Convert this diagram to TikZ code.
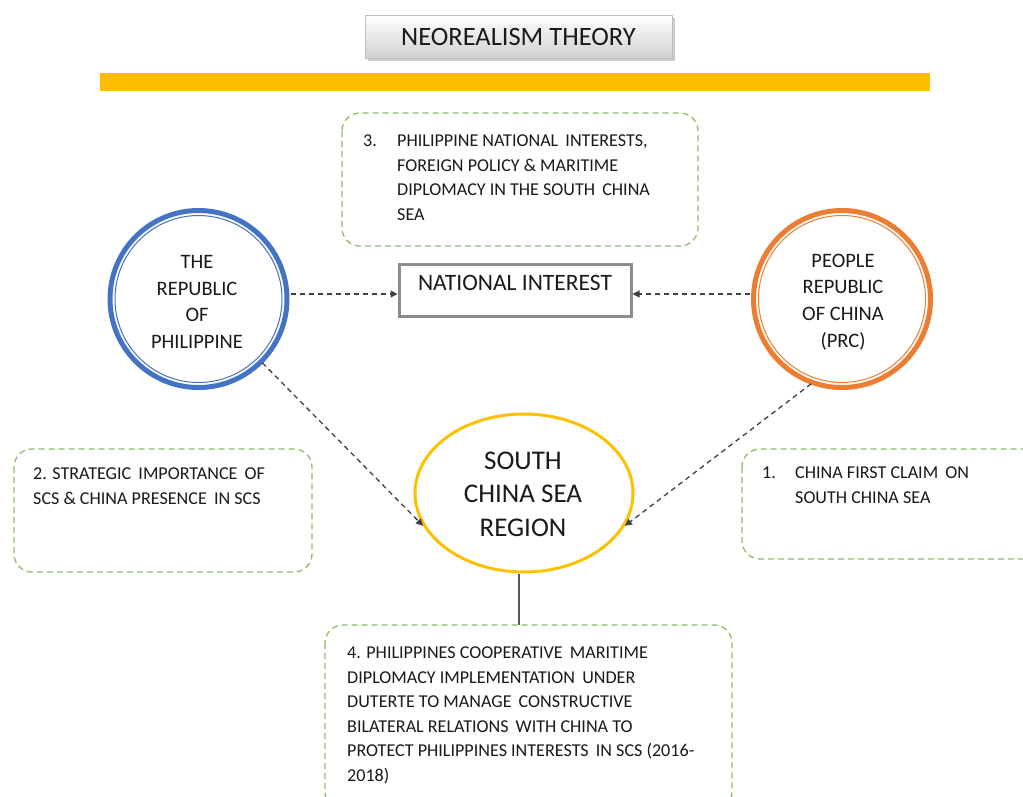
\documentclass[tikz,border=0pt]{standalone}
\usepackage{fontspec}
\setmainfont{Carlito}
\usetikzlibrary{shapes.geometric,arrows.meta,shadows}
\definecolor{gbox}{HTML}{70AD47}
\definecolor{pblue}{HTML}{4472C4}
\definecolor{porange}{HTML}{ED7D31}
\definecolor{pgold}{HTML}{FFC000}
\definecolor{txt}{HTML}{1A1A1A}
\tikzset{
  greenbox/.style={draw=gbox!80, dashed, dash pattern=on 6pt off 4pt, line width=1.3pt, rounded corners=18pt},
  btxt/.style={anchor=north west, inner sep=0pt, text=txt, font=\fontsize{18.1}{24.5}\selectfont, align=left},
  ctxt/.style={text=txt, align=center, font=\fontsize{20.5}{26.7}\selectfont},
  conn/.style={draw=black!75, dashed, dash pattern=on 5pt off 4pt, line width=1.3pt, -{Triangle[length=7pt,width=7pt]}}
}
\begin{document}
\begin{tikzpicture}[x=1pt,y=-1pt]
\clip (0,0) rectangle (1023,796);
\fill[white] (0,0) rectangle (1023,796);
% title
\node[draw=black!25, line width=1pt, top color=white, bottom color=black!18, minimum width=307pt, minimum height=43pt, drop shadow={shadow xshift=3pt, shadow yshift=-3pt, opacity=0.4}, font=\fontsize{26.5}{28}\selectfont, text=txt] (title) at (518.5,36.5) {NEOREALISM THEORY};
% bar
\fill[pgold!95!orange] (100,73) rectangle (930,91);
% box 3
\draw[greenbox] (342,113) rectangle (698,246);
\node[btxt] (t3n) at (363,135) {3.};
\node[btxt] (t3) at (397,135) {PHILIPPINE NATIONAL\, INTERESTS,\\FOREIGN POLICY \& MARITIME\\DIPLOMACY IN THE SOUTH\, CHINA\\SEA};
% national interest
\node[draw=black!45, line width=3pt, minimum width=232pt, minimum height=52pt, text=txt, font=\fontsize{23.5}{26}\selectfont, text depth=18pt, text height=19pt] (ni) at (515,290) {NATIONAL INTEREST};
% philippines
\node[circle, minimum size=180pt] (ph) at (198.5,299) {};
\draw[pblue, line width=5pt] (ph.center) circle (88.5);
\draw[pblue, line width=1pt] (ph.center) circle (83.5);
\node[ctxt] at (197,302) {THE\\REPUBLIC\\OF\\PHILIPPINE};
% PRC
\node[circle, minimum size=180pt] (prc) at (842,299) {};
\draw[porange, line width=5pt] (prc.center) circle (88.5);
\draw[porange, line width=1pt] (prc.center) circle (83.5);
\node[ctxt] at (843,302) {PEOPLE\\REPUBLIC\\OF CHINA\\(PRC)};
% SCS
\node[ellipse, draw=pgold, line width=3pt, minimum width=218pt, minimum height=158pt] (scs) at (524,493) {};
\node[text=txt, align=center, font=\fontsize{27}{33.5}\selectfont] at (523,494) {SOUTH\\CHINA SEA\\REGION};
% box 2
\draw[greenbox] (14,449) rectangle (312,572);
\node[btxt] (t2) at (33,468) {2. STRATEGIC\, IMPORTANCE\, OF\\SCS \& CHINA PRESENCE\, IN SCS};
% box 1
\draw[greenbox] (742,449) rectangle (1040,559);
\node[btxt] (t1n) at (762,467) {1.};
\node[btxt] (t1) at (795,467) {CHINA FIRST CLAIM\, ON\\SOUTH CHINA SEA};
% box 4
\draw[greenbox] (325,625) rectangle (732,810);
\node[btxt] (t4) at (347,647) {4. PHILIPPINES COOPERATIVE\, MARITIME\\DIPLOMACY IMPLEMENTATION\, UNDER\\DUTERTE TO MANAGE\, CONSTRUCTIVE\\BILATERAL RELATIONS\, WITH CHINA TO\\PROTECT PHILIPPINES INTERESTS\, IN SCS (2016-\\2018)};
% connectors
\coordinate (b4top) at (519,625);
\draw[black!65, line width=1.8pt] (scs.south) ++(-5,0) -- (b4top);
\draw[conn] (ph.east |- 0,294) ++(2,0) -- (ni.west |- 0,294);
\draw[conn] (prc.west |- 0,294) ++(-2,0) -- (ni.east |- 0,294);
\draw[conn] (ph.-45) -- (scs.198);
\draw[conn] (prc.-110) -- (scs.-18);
\end{tikzpicture}
\end{document}
